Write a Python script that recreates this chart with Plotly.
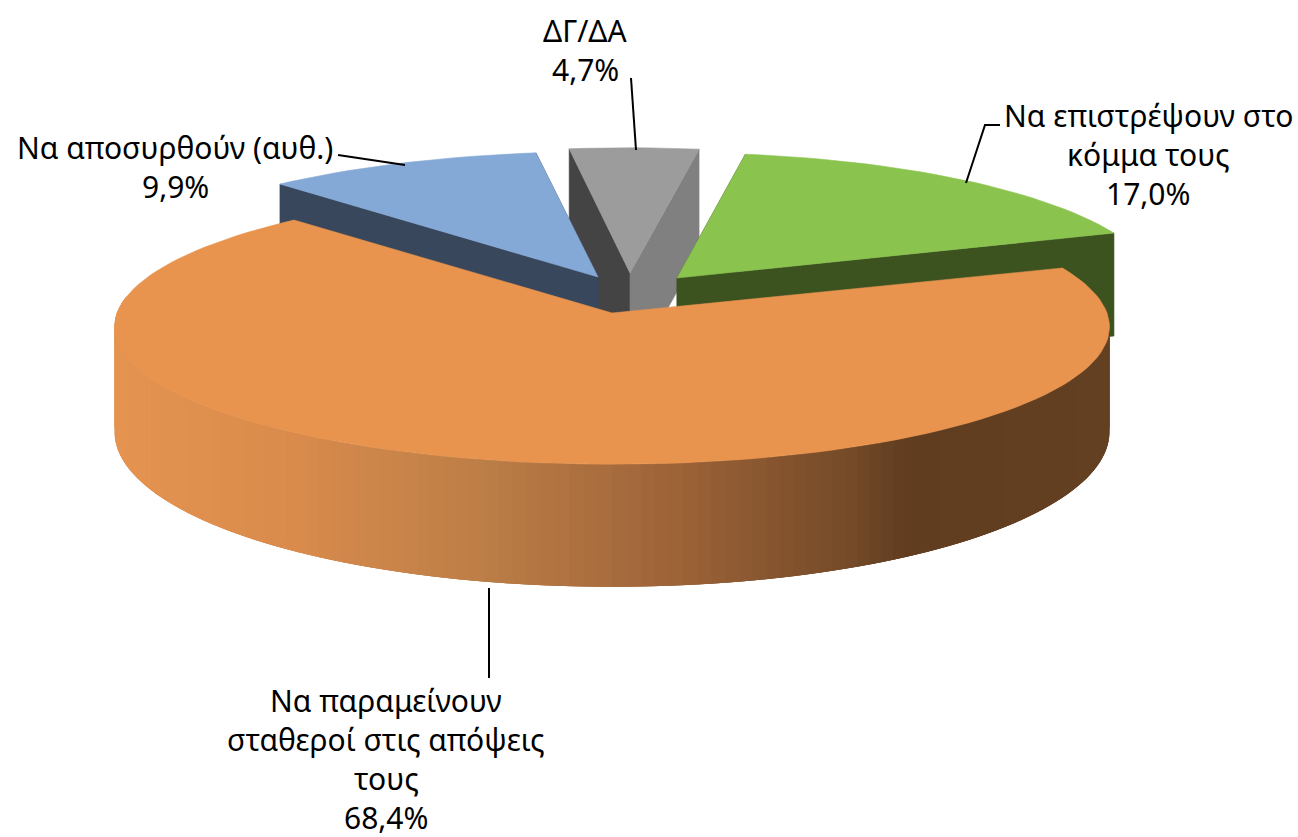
import math
import plotly.graph_objects as go

# ---- data ----
categories = ["Να επιστρέψουν στο<br>κόμμα τους",
              "Να παραμείνουν<br>σταθεροί στις απόψεις<br>τους",
              "Να αποσυρθούν (αυθ.)",
              "ΔΓ/ΔΑ"]
values = [17.0, 68.4, 9.9, 4.7]

# ---- style ----
top_colors = ["#8BC34F", "#E8944F", "#85A9D6", "#9C9C9C"]
wall_start = ["#3C5320", None, "#38475C", "#444444"]
wall_end = ["#3C5320", None, "#38475C", "#808080"]
apex = [(677, 278), (612, 313), (598, 277), (630, 273)]
scale = [0.97, 1.0, 1.0, 0.98]
START = 9.0  # clockwise from back, degrees
RX, KX, RY, KY = 495, 0.10, 137, 0.094
DEPTH, GROW = 103, 0.13
label_top = [(1148, 115), (386, 700), (175, 147), (585, 30)]
LINE_STEP = 39
leaders = [([1000, 985, 966], [125, 125, 183]),
           ([489, 489], [588, 678]),
           ([338, 405], [155, 165]),
           ([631, 636], [78, 150])]
grad_x = [115, 300, 500, 680, 850, 905, 1110]
grad_rgb = [(229, 147, 80), (216, 139, 76), (186, 124, 70), (156, 99, 56),
            (116, 74, 40), (97, 61, 32), (99, 64, 33)]


def rim(theta):
    t = math.radians(theta)
    u, v = math.sin(t), -math.cos(t)
    return RX * u / (1 - KX * v), RY * v / (1 - KY * v)


def height(dy):
    return DEPTH + GROW * max(dy, 0)


def grad(x):
    for i in range(len(grad_x) - 1):
        if x <= grad_x[i + 1]:
            f = max(0, (x - grad_x[i]) / (grad_x[i + 1] - grad_x[i]))
            return "rgb(%d,%d,%d)" % tuple(
                round(a + (b - a) * f) for a, b in zip(grad_rgb[i], grad_rgb[i + 1]))
    return "rgb(%d,%d,%d)" % grad_rgb[-1]


fig = go.Figure()


def poly(xs, ys, color, lw=0.6):
    fig.add_trace(go.Scatter(x=xs, y=ys, mode="lines", fill="toself", fillcolor=color,
                             line=dict(color=color, width=lw), hoverinfo="skip",
                             showlegend=False))


# slice angle ranges
spans = []
a = START
for val in values:
    sweep = val / sum(values) * 360
    spans.append((a, a + sweep))
    a += sweep


def draw_slice(i):
    a0, a1 = spans[i]
    ax, ay = apex[i]
    s = scale[i]
    n = max(8, int((a1 - a0) / 2))
    pts = [rim(a0 + (a1 - a0) * k / n) for k in range(n + 1)]
    pts = [(ax + s * x, ay + y) for x, y in pts]
    # cut walls
    if wall_start[i]:
        p0, p1 = pts[0], pts[-1]
        poly([ax, p0[0], p0[0], ax, ax],
             [ay, p0[1], p0[1] + height(p0[1] - ay), ay + DEPTH, ay], wall_start[i])
        poly([ax, p1[0], p1[0], ax, ax],
             [ay, p1[1], p1[1] + height(p1[1] - ay), ay + DEPTH, ay], wall_end[i])
    poly([ax] + [p[0] for p in pts] + [ax], [ay] + [p[1] for p in pts] + [ay], top_colors[i])


# back-to-front: grey, green, blue, then the large slice
for idx in (3, 0, 2):
    draw_slice(idx)

# curved outer wall of the large slice, as overlapping strips painted in order
ax, ay = apex[1]
a0, a1 = spans[1]
vis0 = max(a0, 83.0)
vis1 = min(a1, 277.0)
N = 130
for k in range(N):
    t0 = vis0 + (vis1 - vis0) * k / N
    t1 = vis0 + (vis1 - vis0) * (k + 1) / N
    t2 = min(vis1, t1 + (vis1 - vis0) * 2 / N)  # overlap hides seams
    x0, y0 = rim(t0)
    x1, y1 = rim(t1)
    x2, y2 = rim(t2)
    xs = [x0, x1, x2, x2, x1, x0, x0]
    ys = [y0, y1, y2, y2 + height(y2), y1 + height(y1), y0 + height(y0), y0]
    poly([ax + x for x in xs], [ay + y for y in ys], grad(ax + (x0 + x1) / 2), lw=0)
draw_slice(1)

# leader lines
for lx, ly in leaders:
    fig.add_trace(go.Scatter(x=lx, y=ly, mode="lines", line=dict(color="black", width=2),
                             hoverinfo="skip", showlegend=False))

# labels, one annotation per line to hold the original line pitch
for cat, val, (lx, ly) in zip(categories, values, label_top):
    lines = cat.split("<br>") + [f"{val:.1f}%".replace(".", ",")]
    for j, line in enumerate(lines):
        fig.add_annotation(x=lx, y=ly + j * LINE_STEP, text=line, showarrow=False,
                           xanchor="center", yanchor="middle", align="center",
                           font=dict(family="Noto Sans", size=30, color="black"))

fig.update_xaxes(range=[0, 1298], visible=False, fixedrange=True)
fig.update_yaxes(range=[837, 0], visible=False, fixedrange=True)
fig.update_layout(width=1298, height=837, margin=dict(l=0, r=0, t=0, b=0),
                  paper_bgcolor="white", plot_bgcolor="white", showlegend=False)
fig.write_html("out.html", config={"displayModeBar": False},
               post_script="document.body.style.margin='0';")
